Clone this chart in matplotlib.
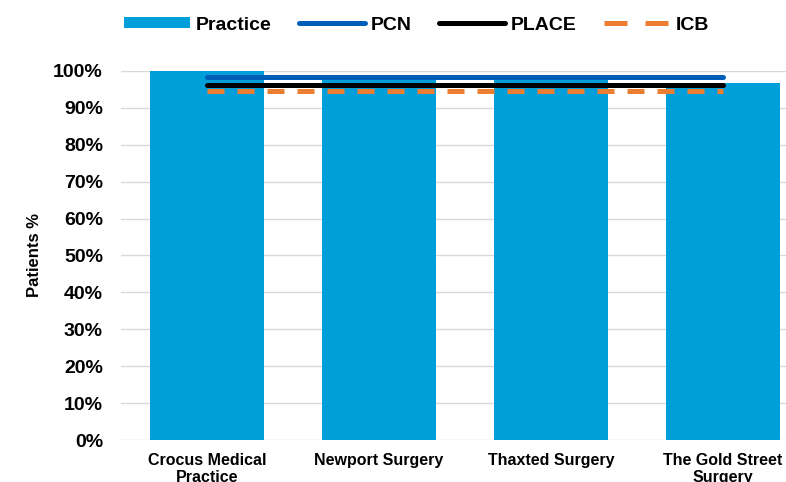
import matplotlib.pyplot as plt
from matplotlib.patches import Patch
from matplotlib.lines import Line2D

plt.rcParams['font.family'] = ['Liberation Sans', 'DejaVu Sans']
plt.rcParams['font.weight'] = 'bold'

practices = ["Crocus Medical\nPractice", "Newport Surgery", "Thaxted Surgery", "The Gold Street\nSurgery"]
practice_vals = [100.0, 97.7, 97.4, 96.8]
pcn_val = 98.3
place_val = 96.1
icb_val = 94.6

BAR = "#009FDA"
PCN_C = "#005EB8"
ICB_C = "#ED7D31"

fig = plt.figure(figsize=(7.86, 4.82), dpi=100)
ax = fig.add_axes([0.154, 0.087, 0.875, 0.766])

x = list(range(len(practices)))
ax.bar(x, practice_vals, width=0.66, color=BAR, zorder=2)
ax.plot([x[0], x[-1]], [pcn_val, pcn_val], color=PCN_C, lw=3.6, zorder=3, solid_capstyle='round')
ax.plot([x[0], x[-1]], [place_val, place_val], color="black", lw=3.6, zorder=3, solid_capstyle='round')
ax.plot([x[0], x[-1]], [icb_val, icb_val], color=ICB_C, lw=3.6, zorder=3,
        linestyle=(0, (3.4, 2.6)))

ax.set_xlim(-0.5, 3.5)
ax.set_ylim(0, 100)
ax.set_yticks(range(0, 101, 10))
ax.set_yticklabels([f"{v}%" for v in range(0, 101, 10)], fontsize=14, fontweight='bold')
ax.set_xticks(x)
ax.set_xticklabels(practices, fontsize=11.5, fontweight='bold', linespacing=1.2)
ax.tick_params(axis='y', length=0, pad=13)
ax.tick_params(axis='x', length=0, pad=9)
ax.grid(axis='y', color='#d9d9d9', lw=1, zorder=0)
for s in ax.spines.values():
    s.set_visible(False)
ax.set_ylabel("Patients %", fontsize=12, fontweight='bold', labelpad=8)

# legend handles, ICB gets a longer dash so two dashes show
handles = [Patch(facecolor=BAR),
           Line2D([], [], color=PCN_C, lw=3.6, solid_capstyle='round'),
           Line2D([], [], color="black", lw=3.6, solid_capstyle='round'),
           Line2D([], [], color=ICB_C, lw=3.6, linestyle=(0, (4.6, 3.6)))]
fig.legend(handles, ["Practice", "PCN", "PLACE", "ICB"], loc='center', bbox_to_anchor=(0.53, 0.948),
           ncol=4, frameon=False, prop={'weight': 'bold', 'size': 14},
           handlelength=3.4, handleheight=0.5, columnspacing=1.4, handletextpad=0.3)

plt.savefig("out.png", dpi=100)
